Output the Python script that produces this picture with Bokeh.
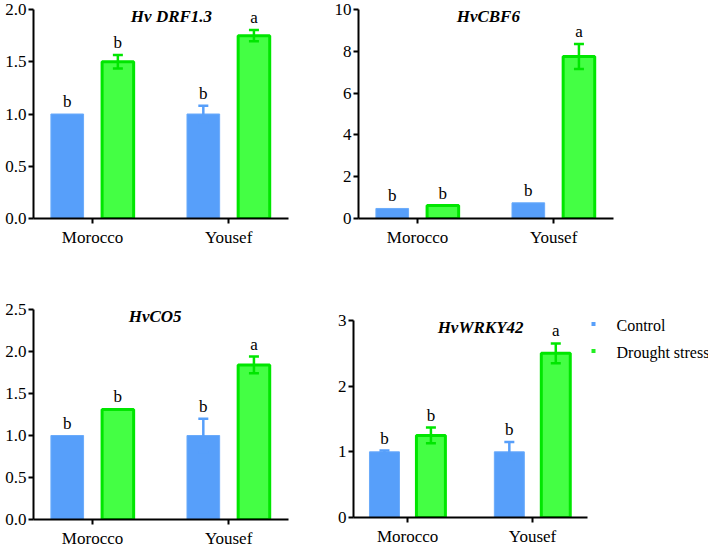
import numpy as np
from bokeh.plotting import figure
from bokeh.models import Range1d, FixedTicker
from bokeh.layouts import row, column
from bokeh.core.properties import value
from bokeh.embed import file_html
from bokeh.resources import INLINE

# ---------------- data ----------------
categories = ["Morocco", "Yousef"]
series_names = ["Control", "Drought stress"]

drf_control = [1.0, 1.0]
drf_control_err = [0.0, 0.08]
drf_drought = [1.5, 1.75]
drf_drought_err = [0.065, 0.055]
drf_control_letters = ["b", "b"]
drf_drought_letters = ["b", "a"]
drf_ticks = [0.0, 0.5, 1.0, 1.5, 2.0]
drf_tick_labels = ["0.0", "0.5", "1.0", "1.5", "2.0"]

cbf_control = [0.48, 0.75]
cbf_control_err = [0.0, 0.0]
cbf_drought = [0.62, 7.75]
cbf_drought_err = [0.0, 0.6]
cbf_control_letters = ["b", "b"]
cbf_drought_letters = ["b", "a"]
cbf_ticks = [0, 2, 4, 6, 8, 10]
cbf_tick_labels = ["0", "2", "4", "6", "8", "10"]

co5_control = [1.0, 1.0]
co5_control_err = [0.0, 0.2]
co5_drought = [1.31, 1.84]
co5_drought_err = [0.0, 0.1]
co5_control_letters = ["b", "b"]
co5_drought_letters = ["b", "a"]
co5_ticks = [0.0, 0.5, 1.0, 1.5, 2.0, 2.5]
co5_tick_labels = ["0.0", "0.5", "1.0", "1.5", "2.0", "2.5"]

wrky_control = [1.0, 1.0]
wrky_control_err = [0.02, 0.15]
wrky_drought = [1.25, 2.5]
wrky_drought_err = [0.12, 0.15]
wrky_control_letters = ["b", "b"]
wrky_drought_letters = ["b", "a"]
wrky_ticks = [0, 1, 2, 3]
wrky_tick_labels = ["0", "1", "2", "3"]

titles = ["Hv DRF1.3", "HvCBF6", "HvCO5", "HvWRKY42"]
title_pos = [0.58, 0.52, 0.46, 0.584]

# ---------------- style ----------------
FONT = "Liberation Serif"
BLUE = "#579ffa"
BLUE_EDGE = "#6aabfb"
GREEN = "#44ff44"
GREEN_EDGE = "#00e600"
SWATCH_COLORS = [BLUE, "#22ee22"]
OFF = 0.186
FS = "17px"


def panel(title, title_x, ctrl, ctrl_err, dr, dr_err, ctrl_let, dr_let,
          ticks, tick_labels, fw, fh, lb, rb, tb, bb):
    ymax = ticks[-1]
    p = figure(width=lb + fw + rb, height=tb + fh + bb,
               x_range=Range1d(-0.434, 1.44), y_range=Range1d(0, ymax),
               output_backend="svg", toolbar_location=None,
               min_border_left=lb, min_border_right=rb,
               min_border_top=tb, min_border_bottom=bb)
    idx = np.arange(len(categories))
    xc = idx - OFF
    xd = idx + OFF
    ctrl = np.array(ctrl, dtype=float)
    dr = np.array(dr, dtype=float)
    ce = np.array(ctrl_err, dtype=float)
    de = np.array(dr_err, dtype=float)

    p.vbar(x=xc, top=ctrl, width=0.24, fill_color=BLUE,
           line_color=BLUE_EDGE, line_width=1)
    p.vbar(x=xd, top=dr, width=0.232, fill_color=GREEN,
           line_color=GREEN_EDGE, line_width=3)

    for xs, tops, errs, col in ((xc, ctrl, ce, BLUE), (xd, dr, de, GREEN_EDGE)):
        m = errs > 0
        if m.any():
            p.segment(x0=xs[m], y0=tops[m] - errs[m], x1=xs[m], y1=tops[m] + errs[m],
                      line_color=col, line_width=2.5)
            p.scatter(x=np.concatenate([xs[m], xs[m]]),
                      y=np.concatenate([tops[m] + errs[m], tops[m] - errs[m]]),
                      marker="dash", size=10, line_color=col, line_width=2.5)

    p.text(x=np.concatenate([xc, xd]),
           y=np.concatenate([ctrl + ce, dr + de]),
           text=list(ctrl_let) + list(dr_let),
           text_align="center", text_baseline="bottom", y_offset=-3,
           text_font=value(FONT), text_font_size=FS, text_color="black")

    p.text(x=[title_x], y=[ymax], text=[title], text_align="center",
           text_baseline="middle", y_offset=7, text_font=value(FONT),
           text_font_size="17px", text_font_style="bold italic",
           text_color="black")

    p.xaxis.ticker = FixedTicker(ticks=list(idx.astype(float)))
    p.xaxis.major_label_overrides = {float(i): c for i, c in enumerate(categories)}
    p.yaxis.ticker = FixedTicker(ticks=[float(t) for t in ticks])
    p.yaxis.major_label_overrides = {float(t): l for t, l in zip(ticks, tick_labels)}
    p.xaxis.major_label_standoff = 4
    p.yaxis.major_label_standoff = 2
    for ax in p.axis:
        ax.axis_line_width = 2
        ax.axis_line_color = "black"
        ax.major_tick_line_width = 2
        ax.major_tick_line_color = "black"
        ax.major_tick_in = 0
        ax.major_tick_out = 5
        ax.minor_tick_line_color = None
        ax.major_label_text_font = FONT
        ax.major_label_text_font_size = FS
        ax.major_label_text_color = "black"
    p.grid.visible = False
    p.outline_line_color = None
    p.background_fill_color = "white"
    p.border_fill_color = "white"
    return p


p1 = panel(titles[0], title_pos[0], drf_control, drf_control_err, drf_drought,
           drf_drought_err, drf_control_letters, drf_drought_letters,
           drf_ticks, drf_tick_labels, 255, 210, 33, 40, 9, 30)
p2 = panel(titles[1], title_pos[1], cbf_control, cbf_control_err, cbf_drought,
           cbf_drought_err, cbf_control_letters, cbf_drought_letters,
           cbf_ticks, cbf_tick_labels, 255, 210, 30, 10, 9, 30)
p3 = panel(titles[2], title_pos[2], co5_control, co5_control_err, co5_drought,
           co5_drought_err, co5_control_letters, co5_drought_letters,
           co5_ticks, co5_tick_labels, 255, 213, 33, 40, 60, 28)
p4 = panel(titles[3], title_pos[3], wrky_control, wrky_control_err, wrky_drought,
           wrky_drought_err, wrky_control_letters, wrky_drought_letters,
           wrky_ticks, wrky_tick_labels, 234, 197, 25, 3, 71, 33)

# legend panel (its own small figure, data units = pixels, y downward)
LW, LH = 118, 301
pl = figure(width=LW, height=LH, x_range=Range1d(0, LW), y_range=Range1d(LH, 0),
            output_backend="svg", toolbar_location=None,
            x_axis_type=None, y_axis_type=None,
            min_border_left=0, min_border_right=0, min_border_top=0, min_border_bottom=0)
pl.grid.visible = False
pl.outline_line_color = None
pl.background_fill_color = "white"
pl.border_fill_color = "white"
leg_marker_x = [3, 3]
leg_marker_y = [74.5, 101.5]
leg_text_x = [26, 26]
leg_text_y = [76, 103]
pl.scatter(x=leg_marker_x, y=leg_marker_y, marker="square", size=4,
           fill_color=SWATCH_COLORS, line_color=None)
pl.text(x=leg_text_x, y=leg_text_y, text=series_names, text_align="left",
        text_baseline="alphabetic", text_font=value(FONT), text_font_size="16px",
        text_color="black")

layout = column(row(p1, p2), row(p3, column(p4), column(pl)))
open("out.html", "w").write(file_html(layout, INLINE))
